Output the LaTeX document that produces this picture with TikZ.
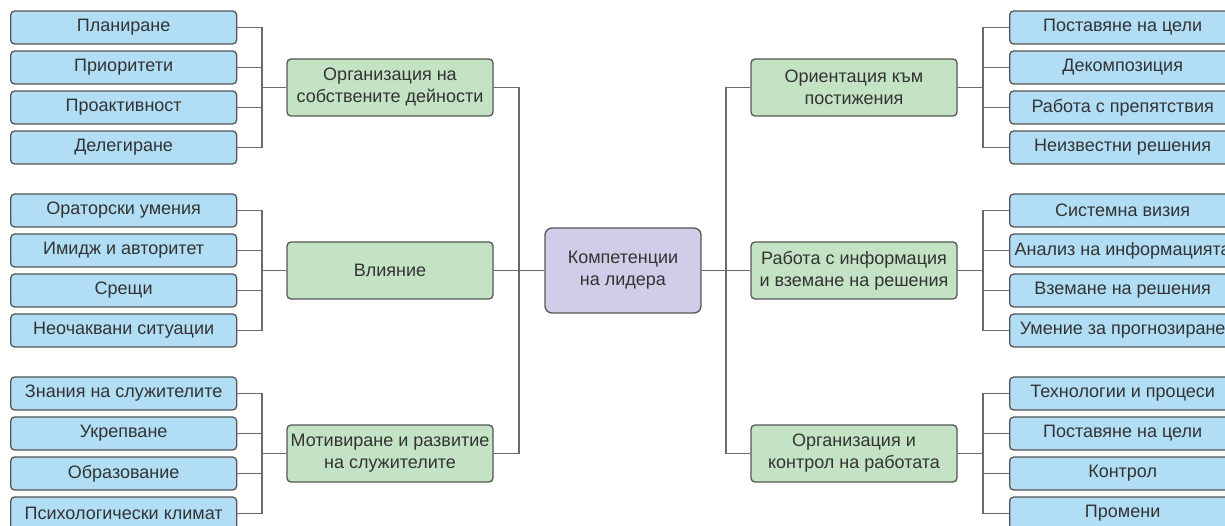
\documentclass[tikz,border=0pt]{standalone}
\usepackage{fontspec}
\setmainfont{Liberation Sans}
\usetikzlibrary{arrows.meta}
\usetikzlibrary{shapes}

\definecolor{leafc}{HTML}{B1DDF5}
\definecolor{groupc}{HTML}{C4E3C4}
\definecolor{rootc}{HTML}{D1CDE8}
\definecolor{edgec}{HTML}{555555}
\definecolor{linkc}{HTML}{6A6A6A}
\definecolor{textc}{HTML}{333333}

\tikzset{
  box/.style={draw=edgec,line width=1.3bp,rounded corners=4bp,text=textc,
    font=\fontsize{18bp}{22bp}\selectfont,inner sep=2bp},
  leaf/.style={box,fill=leafc,minimum width=226bp,minimum height=33bp,anchor=west},
  group/.style={box,fill=groupc,minimum width=206bp,minimum height=57bp,align=center},
  root/.style={box,fill=rootc,minimum width=156bp,minimum height=85bp,align=center,rounded corners=7bp},
  link/.style={draw=linkc,line width=1.4bp},
}

\begin{document}
\begin{tikzpicture}[x=1bp,y=-1bp]
%%
\useasboundingbox (0,0) rectangle (1225,526);
\clip (0,0) rectangle (1225,526);
\node (node_0) at (623,270.5) [root] {Компетенции\\на лидера};
  \node (node_1) at (390,87.5) [group] {Организация на\\собствените дейности};
  \node (node_2) at (390,270.5) [group] {Влияние};
  \node (node_3) at (390,453.5) [group] {Мотивиране и развитие\\на служителите};
  \node (node_4) at (854,87.5) [group] {Ориентация към\\постижения};
  \node (node_5) at (854,270.5) [group] {Работа с информация\\и вземане на решения};
  \node (node_6) at (854,453.5) [group] {Организация и\\контрол на работата};
  \node (node_7) at (10,27.5) [leaf] {Планиране};
  \node (node_8) at (10,67.5) [leaf] {Приоритети};
  \node (node_9) at (10,107.5) [leaf] {Проактивност};
  \node (node_10) at (10,147.5) [leaf] {Делегиране};
  \node (node_11) at (10,210.5) [leaf] {Ораторски умения};
  \node (node_12) at (10,250.5) [leaf] {Имидж и авторитет};
  \node (node_13) at (10,290.5) [leaf] {Срещи};
  \node (node_14) at (10,330.5) [leaf] {Неочаквани ситуации};
  \node (node_15) at (10,393.5) [leaf] {Знания на служителите};
  \node (node_16) at (10,433.5) [leaf] {Укрепване};
  \node (node_17) at (10,473.5) [leaf] {Образование};
  \node (node_18) at (10,513.5) [leaf] {Психологически климат};
  \node (node_19) at (1009,27.5) [leaf] {Поставяне на цели};
  \node (node_20) at (1009,67.5) [leaf] {Декомпозиция};
  \node (node_21) at (1009,107.5) [leaf] {Работа с препятствия};
  \node (node_22) at (1009,147.5) [leaf] {Неизвестни решения};
  \node (node_23) at (1009,210.5) [leaf] {Системна визия};
  \node (node_24) at (1009,250.5) [leaf] {Анализ на информацията};
  \node (node_25) at (1009,290.5) [leaf] {Вземане на решения};
  \node (node_26) at (1009,330.5) [leaf] {Умение за прогнозиране};
  \node (node_27) at (1009,393.5) [leaf] {Технологии и процеси};
  \node (node_28) at (1009,433.5) [leaf] {Поставяне на цели};
  \node (node_29) at (1009,473.5) [leaf] {Контрол};
  \node (node_30) at (1009,513.5) [leaf] {Промени};
  \coordinate (j_l) at (519,270.5);
  \coordinate (j_r) at (726,270.5);
  \coordinate (b_1) at (262,87.5);
  \coordinate (b_2) at (262,270.5);
  \coordinate (b_3) at (262,453.5);
  \coordinate (b_4) at (983,87.5);
  \coordinate (b_5) at (983,270.5);
  \coordinate (b_6) at (983,453.5);
  \draw [link] (node_0.west) -- (node_2.east);
  \draw [link] (j_l) |- (node_1.east);
  \draw [link] (j_l) |- (node_3.east);
  \draw [link] (node_0.east) -- (node_5.west);
  \draw [link] (j_r) |- (node_4.west);
  \draw [link] (j_r) |- (node_6.west);
  \draw [link] (node_1.west) -- (b_1);
  \draw [link] (node_2.west) -- (b_2);
  \draw [link] (node_3.west) -- (b_3);
  \draw [link] (node_4.east) -- (b_4);
  \draw [link] (node_5.east) -- (b_5);
  \draw [link] (node_6.east) -- (b_6);
  \draw [link] (b_1) |- (node_7.east);
  \draw [link] (b_1) |- (node_8.east);
  \draw [link] (b_1) |- (node_9.east);
  \draw [link] (b_1) |- (node_10.east);
  \draw [link] (b_2) |- (node_11.east);
  \draw [link] (b_2) |- (node_12.east);
  \draw [link] (b_2) |- (node_13.east);
  \draw [link] (b_2) |- (node_14.east);
  \draw [link] (b_3) |- (node_15.east);
  \draw [link] (b_3) |- (node_16.east);
  \draw [link] (b_3) |- (node_17.east);
  \draw [link] (b_3) |- (node_18.east);
  \draw [link] (b_4) |- (node_19.west);
  \draw [link] (b_4) |- (node_20.west);
  \draw [link] (b_4) |- (node_21.west);
  \draw [link] (b_4) |- (node_22.west);
  \draw [link] (b_5) |- (node_23.west);
  \draw [link] (b_5) |- (node_24.west);
  \draw [link] (b_5) |- (node_25.west);
  \draw [link] (b_5) |- (node_26.west);
  \draw [link] (b_6) |- (node_27.west);
  \draw [link] (b_6) |- (node_28.west);
  \draw [link] (b_6) |- (node_29.west);
  \draw [link] (b_6) |- (node_30.west);
%
\end{tikzpicture}
\end{document}
